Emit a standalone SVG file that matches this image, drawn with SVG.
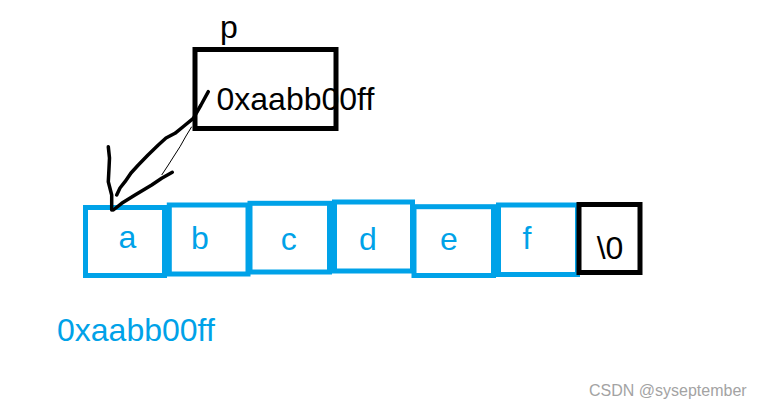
<svg xmlns="http://www.w3.org/2000/svg" width="761" height="409" viewBox="0 0 761 409">
<style>
.cell{fill:none;stroke:#00a2e8;stroke-width:5}
.bcell{fill:none;stroke:#000;stroke-width:5}
.t{font-family:"Liberation Sans",Arial,sans-serif;font-size:32px}
.blue{fill:#00a2e8}
.blk{fill:#000}
.ink{fill:none;stroke:#000;stroke-width:3.5;stroke-linecap:round;stroke-linejoin:round}
.thin{fill:none;stroke:#000;stroke-width:1}
.wm{font-family:"Liberation Sans",Arial,sans-serif;font-size:16px;fill:#a3a3a3}
</style>
<rect width="761" height="409" fill="#fff"/>
<g id="p-node">
  <text class="t blk" x="220" y="38">p</text>
  <rect class="bcell" x="195" y="49.5" width="141" height="79" stroke-width="4.5"/>
  <text class="t blk" x="216.5" y="110">0xaabb00ff</text>
</g>
<g id="cell-a"><rect class="cell" x="85.5" y="207.5" width="79" height="68"/><text class="t blue" x="127.5" y="248" text-anchor="middle">a</text></g>
<g id="cell-b"><rect class="cell" x="169.3" y="205" width="78.7" height="69"/><text class="t blue" x="200" y="249" text-anchor="middle">b</text></g>
<g id="cell-c"><rect class="cell" x="250" y="203.3" width="79.5" height="68.7"/><text class="t blue" x="288.7" y="249.5" text-anchor="middle">c</text></g>
<g id="cell-d"><rect class="cell" x="334.5" y="202" width="78" height="69"/><text class="t blue" x="368" y="249.5" text-anchor="middle">d</text></g>
<g id="cell-e"><rect class="cell" x="414" y="206.7" width="79.5" height="68.8"/><text class="t blue" x="449" y="249.5" text-anchor="middle">e</text></g>
<g id="cell-f"><rect class="cell" x="498.5" y="205" width="79" height="69.5"/><text class="t blue" x="527" y="248.7" text-anchor="middle">f</text></g>
<g id="cell-nul"><rect class="bcell" x="579" y="204.5" width="61" height="68"/><text class="t blk" x="610" y="259" text-anchor="middle">\0</text></g>
<g id="addr"><text class="t blue" x="57" y="341">0xaabb00ff</text></g>
<g id="connectors">
  <path class="ink" d="M208.3,91.7 L201,105 L193.3,118.3 L184,126 L175,133.3 L166,138 L158.3,145 L148,155 L138.3,165 L131,173 L125,181.7 L120,188 L116.7,195"/>
  <path class="ink" d="M108.3,146.7 L109.5,158 L109,168.3 L108.3,181.7 L111.7,195 L111.7,210"/>
  <path class="ink" d="M113.3,210 L121.7,203.3 L135,195 L151.7,185 L161.7,178.3 L172.3,172.3"/>
  <path class="thin" d="M191.7,126.7 L186,136 L180,146.7 L174,156 L168.3,165 L161.7,175"/>
</g>
<text class="wm" x="589" y="396">CSDN @syseptember</text>
</svg>
